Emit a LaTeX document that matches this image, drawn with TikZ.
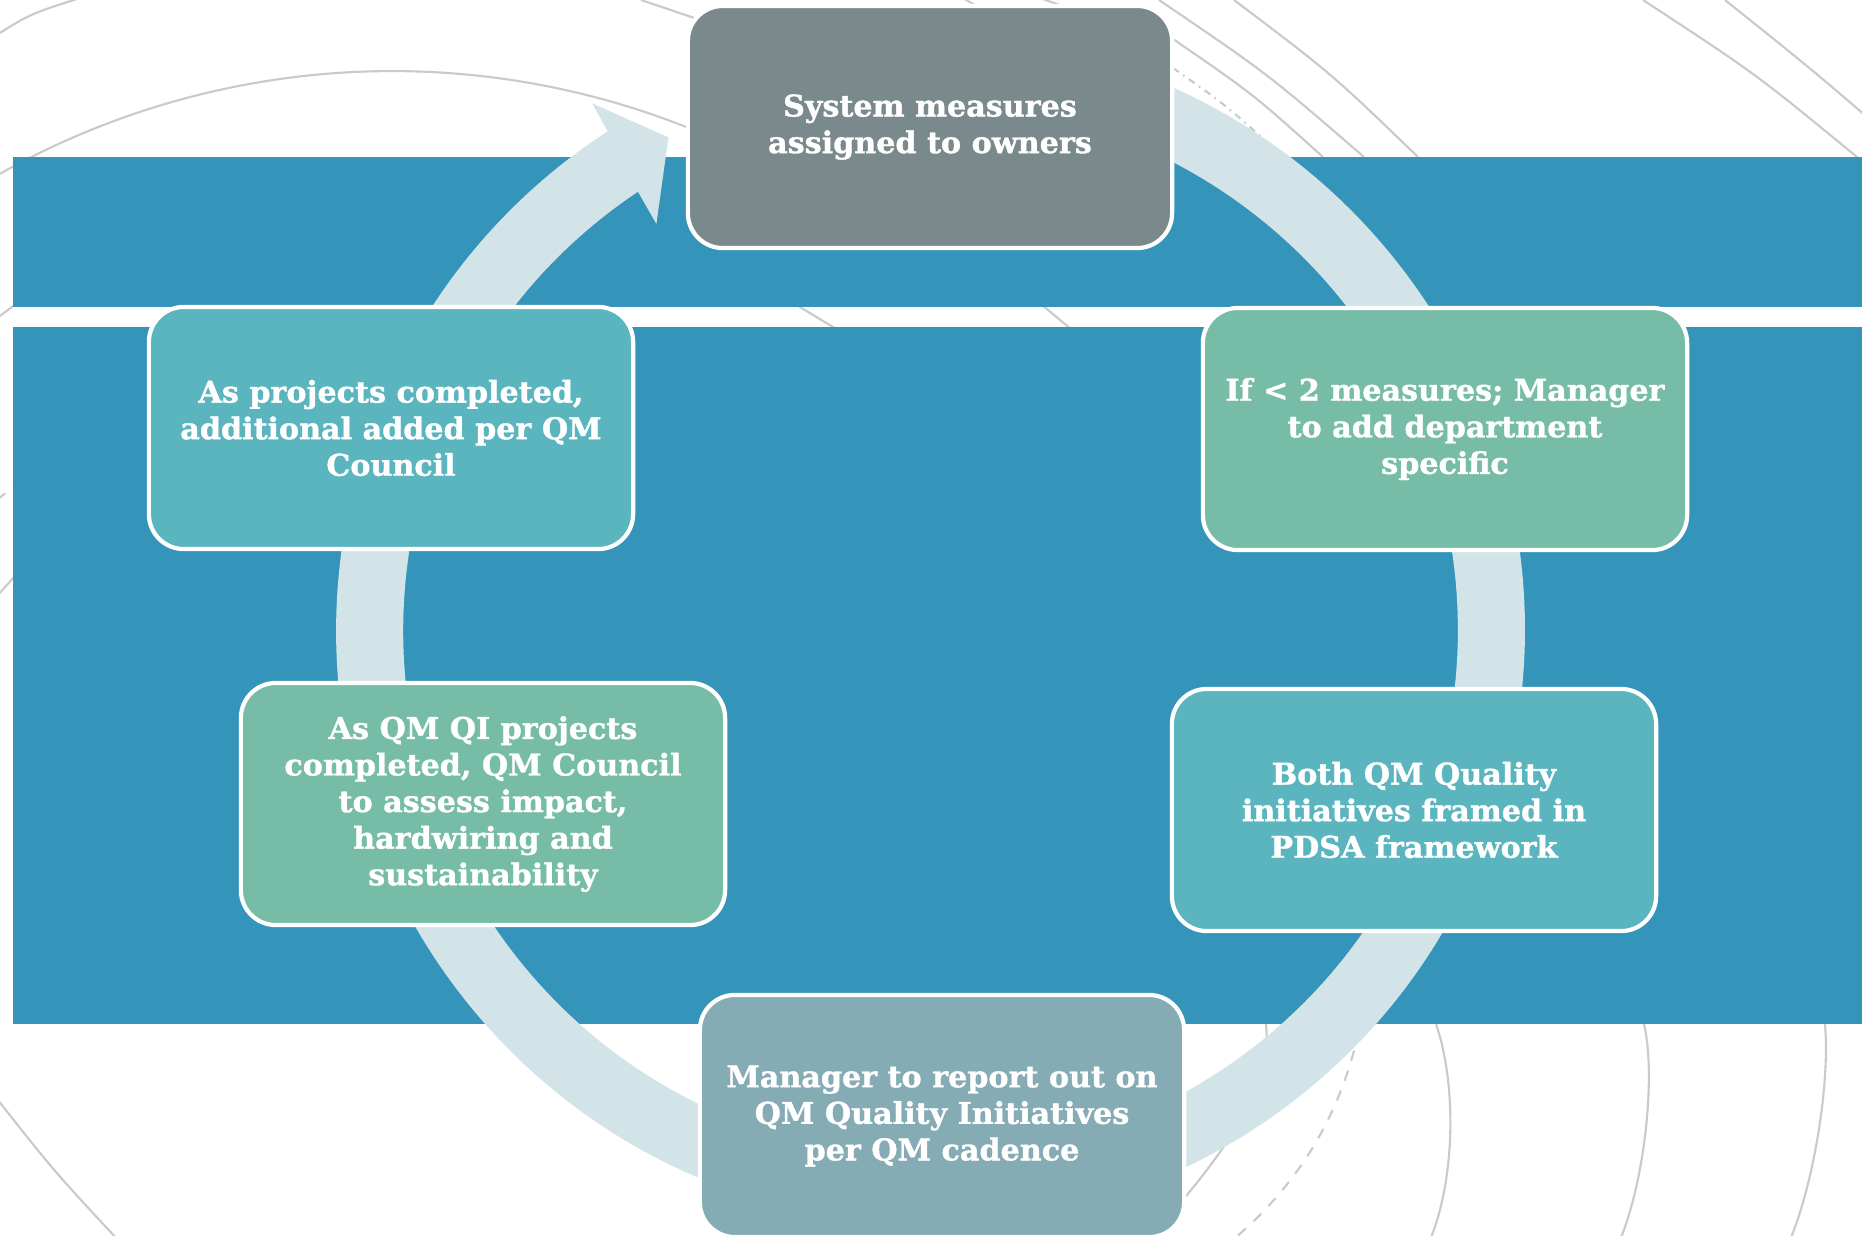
\documentclass[tikz,border=0pt]{standalone}
\usepackage{fontspec}
\newfontfamily\boxfont{DejaVu Serif}[FakeStretch=1.01, FakeBold=1.2]
\definecolor{bandblue}{HTML}{3594BA}
\definecolor{ringc}{HTML}{D2E4E8}
\definecolor{topgray}{HTML}{7A8A8C}
\definecolor{greenbox}{HTML}{76BCA6}
\definecolor{tealbox}{HTML}{5AB5BF}
\definecolor{botbox}{HTML}{85ABB4}
\definecolor{linegray}{HTML}{CACACA}
\tikzset{
  bgline/.style={draw=linegray, line width=0.6pt},
  box/.style={rectangle, rounded corners=0.35cm, draw=white, line width=1.2pt,
    minimum width=4.84cm, minimum height=2.42cm, align=center, text=white,
    inner sep=0pt, font=\boxfont\bfseries\fontsize{8.5}{10.4}\selectfont}
}
\begin{document}
\begin{tikzpicture}[x=0.01cm, y=-0.01cm]
\useasboundingbox (0,0) rectangle (1862,1235);
\clip (0,0) rectangle (1862,1235);
\fill[white] (0,0) rectangle (1862,1235);

% background decorative lines
\draw[bgline] (-5,36) .. controls (30,14) .. (80,-2);
\draw[bgline] (3.92cm,-8.71cm) ++(119.6:8cm) arc[start angle=119.6, end angle=66, radius=8cm];
\draw[bgline] (641,0) -- (730,30);
\draw[bgline] (963,-2) -- (990,14);
\draw[bgline] (1040,-2) -- (1085,14);
\draw[bgline] (1159,0) .. controls (1268,74) .. (1364,157);
\draw[bgline] (1173,39) .. controls (1253,94) .. (1323,157);
\draw[bgline, dash pattern=on 2pt off 1.5pt on 0.5pt off 1.5pt] (1173,68) .. controls (1223,103) .. (1268,143);
\draw[bgline] (1234,0) .. controls (1332,74) .. (1418,157);
\draw[bgline] (1643,0) .. controls (1756,74) .. (1857,157);
\draw[bgline] (1725,0) .. controls (1810,68) .. (1880,128);
\draw[bgline] (795,304) -- (838,330);
\draw[bgline] (1041,304) -- (1072,330);
\draw[bgline] (-3,318) -- (16,304);
\draw[bgline, dashed] (-3,500) -- (14,486);
\draw[bgline] (-3,596) -- (15,576);
\draw[bgline] (-6,1095) .. controls (53,1170) .. (118,1240);
\draw[bgline] (1266,1024) .. controls (1272,1080) and (1235,1140) .. (1170,1215);
\draw[bgline, dashed] (1359,1030) .. controls (1340,1118) and (1296,1186) .. (1235,1238);
\draw[bgline] (1436,1024) .. controls (1457,1085) and (1455,1180) .. (1430,1240);
\draw[bgline] (1644,1024) .. controls (1656,1075) and (1645,1180) .. (1620,1240);
\draw[bgline] (1825,1024) .. controls (1830,1080) and (1815,1180) .. (1790,1240);

% blue bands
\fill[bandblue] (13,157) rectangle (1862,307);
\fill[bandblue] (13,327) rectangle (1862,1024);

% cycle arrow
\begin{scope}[shift={(9.3cm,-6.3cm)}]
\fill[ringc] (80:5.94cm) arc[start angle=80, end angle=-237.1, radius=5.94cm]
  -- (-237.3:6.26cm) -- (-242:5.58cm) -- (-236:4.90cm) -- (-236.3:5.27cm)
  arc[start angle=-236.3, end angle=80, radius=5.27cm] -- cycle;
\end{scope}

% boxes
\node[box, fill=topgray] (sys) at (930,127) {System measures\\assigned to owners};
\node[box, fill=greenbox] (less) at (1445,429) {If < 2 measures; Manager\\to add department\\specific};
\node[box, fill=tealbox] (pdsa) at (1414,810) {Both QM Quality\\initiatives framed in\\PDSA framework};
\node[box, fill=botbox] (report) at (942,1116) {Manager to report out on\\QM Quality Initiatives\\per QM cadence};
\node[box, fill=greenbox] (assess) at (483,804) {As QM QI projects\\completed, QM Council\\to assess impact,\\hardwiring and\\sustainability};
\node[box, fill=tealbox] (added) at (391,428) {As projects completed,\\additional added per QM\\Council};
\end{tikzpicture}
\end{document}
